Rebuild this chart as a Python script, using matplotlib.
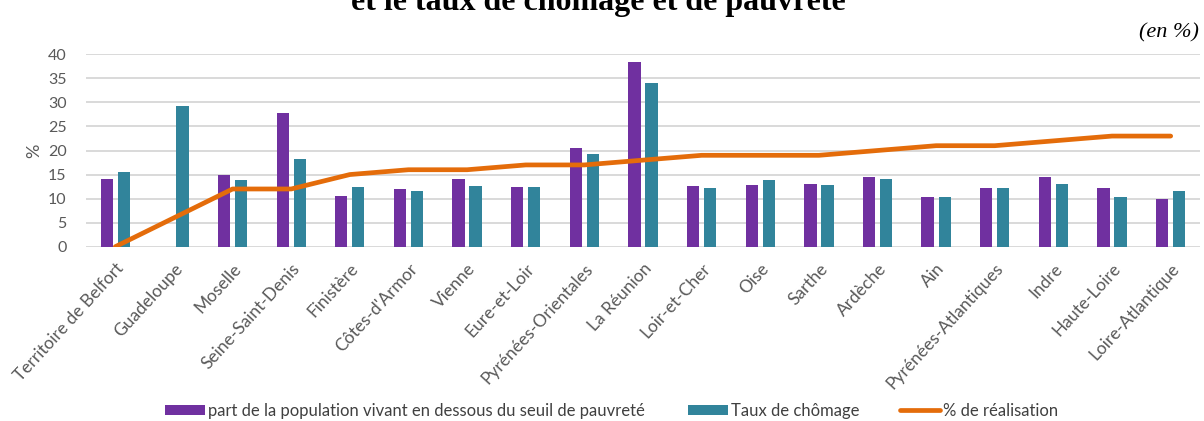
import matplotlib.pyplot as plt
import numpy as np

# Départements, taux de pauvreté, taux de chômage et % de réalisation
departements = ["Territoire de Belfort", "Guadeloupe", "Moselle", "Seine-Saint-Denis",
                "Finistère", "Côtes-d'Armor", "Vienne", "Eure-et-Loir",
                "Pyrénées-Orientales", "La Réunion", "Loir-et-Cher", "Oise", "Sarthe",
                "Ardèche", "Ain", "Pyrénées-Atlantiques", "Indre", "Haute-Loire",
                "Loire-Atlantique"]
pauvrete = [14.0, 0, 14.9, 27.9, 10.5, 11.9, 14.0, 12.5, 20.5, 38.3,
            12.6, 12.8, 13.1, 14.4, 10.4, 12.2, 14.5, 12.1, 9.9]
chomage = [15.5, 29.3, 13.8, 18.3, 12.5, 11.5, 12.7, 12.5, 19.3, 34.0,
           12.2, 13.9, 12.8, 14.0, 10.4, 12.1, 13.1, 10.4, 11.6]
realisation = [0, 6, 12, 12, 15, 16, 16, 17, 17, 18, 19, 19, 19, 20, 21, 21, 22, 23, 23]

violet = "#7030A0"
bleu = "#31849B"
orange = "#E46C0A"
gris = "#595959"

W, H = 1204, 421
fig = plt.figure(figsize=(W / 100, H / 100), dpi=100)
ax = fig.add_axes([86 / W, 1 - 246.7 / H, (1200 - 86) / W, (246.7 - 54.3) / H])

x = np.arange(len(departements))
w = 0.21
b1 = ax.bar(x - 0.145, pauvrete, w, color=violet, zorder=2,
            label="part de la population vivant en dessous du seuil de pauvreté")
b2 = ax.bar(x + 0.145, chomage, w, color=bleu, zorder=2, label="Taux de chômage")
l1, = ax.plot(x, realisation, color=orange, lw=3.4, solid_joinstyle="round",
              solid_capstyle="round", zorder=3, label="% de réalisation")

ax.set_xlim(-0.5, len(departements) - 0.5)
ax.set_ylim(0, 40)
ax.set_yticks(range(0, 41, 5))
ax.grid(axis="y", color="#D9D9D9", lw=1.4, zorder=0)
ax.set_axisbelow(True)
for s in ax.spines.values():
    s.set_visible(False)

ax.tick_params(axis="y", length=0, pad=14, labelsize=11.5, labelcolor=gris)
ax.tick_params(axis="x", length=0, pad=10)
ax.set_xticks(x)
ax.set_xticklabels(departements, rotation=47.5, ha="right", rotation_mode="anchor",
                   fontsize=12.5, color=gris, family="Lato")
for lbl in ax.get_yticklabels():
    lbl.set_family("Lato")
ax.set_ylabel("%", fontsize=13, color=gris, family="Lato", labelpad=4)

# une légende par série, placées comme dans Excel
for h, x0 in [(b1, 165), (b2, 688), (l1, 900)]:
    fig.legend(handles=[h], loc="center left", bbox_to_anchor=(x0 / W, 1 - 411 / H),
               frameon=False, prop={"family": "Lato", "size": 12},
               labelcolor="#404040", handlelength=2.4, handleheight=0.6,
               handletextpad=0.2, borderpad=0, borderaxespad=0)

# titre coupé en haut et unité
fig.text(0.497, 1 - 10 / H, "et le taux de chômage et de pauvreté", ha="center",
         va="baseline", family="Liberation Serif", fontweight="bold", fontsize=23)
fig.text(1199 / W, 1 - 37 / H, "(en %)", ha="right", va="baseline",
         family="Liberation Serif", style="italic", fontsize=16)

fig.savefig("out.png", dpi=100)
